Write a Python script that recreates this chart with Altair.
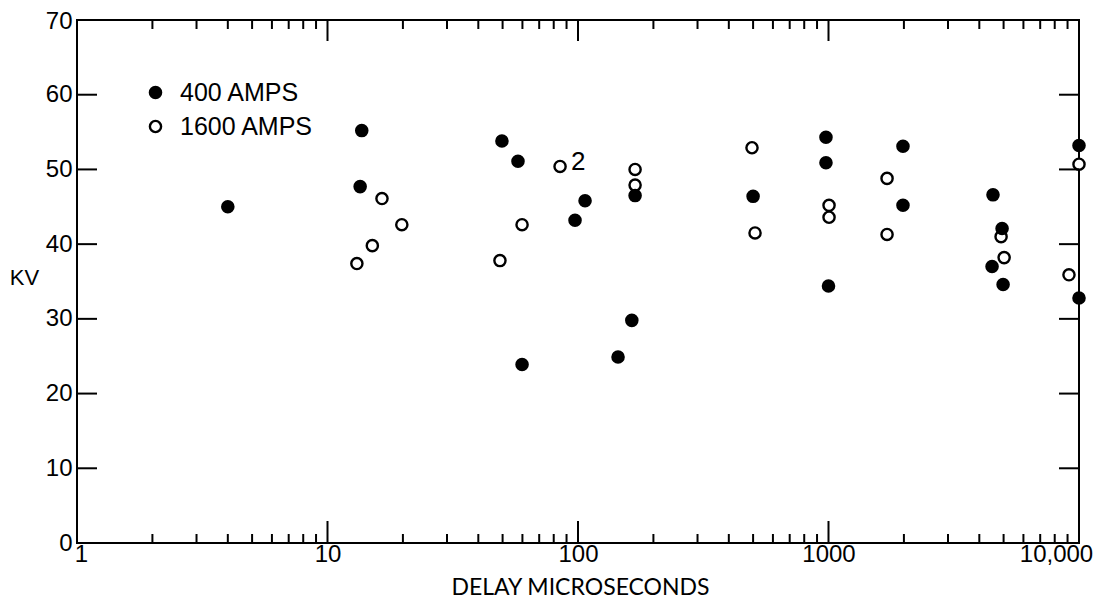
import altair as alt
import pandas as pd

# ---- data ----
amps400_x = [4.0, 13.7, 13.5, 49.7, 57.6, 106.7, 97.3, 169, 500, 59.8, 144.5, 164,
             977, 977, 1983, 1983, 4536, 4931, 4497, 4977, 1000, 10000, 10000]
amps400_y = [45.0, 55.2, 47.7, 53.8, 51.1, 45.8, 43.2, 46.5, 46.4, 23.9, 24.9, 29.8,
             54.3, 50.9, 53.1, 45.2, 46.6, 42.1, 37.0, 34.6, 34.4, 53.2, 32.8]
amps1600_x = [13.1, 15.1, 16.5, 19.8, 48.8, 59.8, 84.8, 169, 169, 495, 509,
              1713, 1713, 1005, 1005, 4886, 5025, 9120, 10000]
amps1600_y = [37.4, 39.8, 46.1, 42.6, 37.8, 42.6, 50.4, 50.0, 47.9, 52.9, 41.5,
              48.8, 41.3, 45.2, 43.6, 41.0, 38.2, 35.9, 50.7]

series_names = ["400 AMPS", "1600 AMPS"]

annot_x = [84.8]
annot_y = [50.4]
annot_text = ["2"]

x_tick_values = [1, 10, 100, 1000, 10000]
x_tick_labels = ["1", "10", "100", "1000", "10,000"]
x_minor_ticks = [2, 3, 4, 5, 6, 7, 8, 9,
                 20, 30, 40, 50, 60, 70, 80, 90,
                 200, 300, 400, 500, 600, 700, 800, 900,
                 2000, 3000, 4000, 5000, 6000, 7000, 8000, 9000]
y_tick_values = [0, 10, 20, 30, 40, 50, 60, 70]

# ---- layout ----
W, H = 1002, 523
FONT = "Liberation Sans"
TITLE_FONT = "Lato"

xs = alt.Scale(type="log", domain=[1, 10000], nice=False)
ys = alt.Scale(domain=[0, 70], nice=False)

label_expr = " : ".join(
    [f"datum.value == {v} ? '{l}'" for v, l in zip(x_tick_values, x_tick_labels)]
) + " : ''"

x_axis = alt.Axis(
    values=x_tick_values, labelExpr=label_expr, title="DELAY MICROSECONDS",
    labelFontSize=24, labelFont=FONT, labelPadding=-1, tickSize=0, ticks=False,
    labelFlush=False,
    labelOffset={"condition": [{"test": "datum.value == 10000", "value": -23},
                               {"test": "datum.value == 1", "value": 4}], "value": 0},
    titleFont=TITLE_FONT, titleFontSize=23, titleFontWeight="normal",
    titleX=503, titleY=44, titleBaseline="middle", titleAlign="center",
)
y_axis = alt.Axis(
    values=y_tick_values, title="KV", labelFontSize=24, labelFont=FONT,
    labelPadding=5, tickSize=0, ticks=False,
    labelOffset={"condition": {"test": "datum.value == 70", "value": 1}, "value": 0},
    titleAngle=0, titleX=-53, titleY=257, titleAlign="center", titleBaseline="middle",
    titleFont=FONT, titleFontSize=22, titleFontWeight="normal",
)

pts = pd.DataFrame({
    "delay": amps1600_x + amps400_x,
    "kv": amps1600_y + amps400_y,
    "series": [series_names[1]] * len(amps1600_x) + [series_names[0]] * len(amps400_x),
})

points = alt.Chart(pts).mark_point(
    shape="circle", size=125, strokeWidth=2.4, stroke="black",
    opacity=1, fillOpacity=1
).encode(
    x=alt.X("delay:Q", scale=xs, axis=x_axis),
    y=alt.Y("kv:Q", scale=ys, axis=y_axis),
    fill=alt.Fill("series:N", scale=alt.Scale(domain=series_names, range=["black", "white"]),
                  legend=alt.Legend(
                      title=None, orient="none", legendX=66, legendY=60, padding=0,
                      symbolType="circle", symbolSize=125, symbolStrokeColor="black",
                      symbolStrokeWidth=2.4, labelFontSize=25, labelFont=FONT,
                      labelOffset=12, rowPadding=8, labelColor="black",
                  )),
)

annot = alt.Chart(pd.DataFrame({"delay": annot_x, "kv": annot_y, "label": annot_text})).mark_text(
    dx=11, dy=-4, align="left", baseline="middle", fontSize=26, font=FONT, color="black"
).encode(
    x=alt.X("delay:Q", scale=xs, axis=x_axis),
    y=alt.Y("kv:Q", scale=ys, axis=y_axis),
    text="label:N",
)

yt = pd.DataFrame({"kv": y_tick_values[1:-1]})
xmaj = pd.DataFrame({"delay": x_tick_values[1:-1]})
xmin = pd.DataFrame({"delay": x_minor_ticks})

rule = dict(color="black", strokeWidth=2)
left_ticks = alt.Chart(yt).mark_rule(**rule).encode(
    y=alt.Y("kv:Q", scale=ys, axis=y_axis), x=alt.value(0), x2=alt.value(20))
right_ticks = alt.Chart(yt).mark_rule(**rule).encode(
    y=alt.Y("kv:Q", scale=ys, axis=y_axis), x=alt.value(W - 20), x2=alt.value(W))
bottom_major = alt.Chart(xmaj).mark_rule(**rule).encode(
    x=alt.X("delay:Q", scale=xs, axis=x_axis), y=alt.value(H), y2=alt.value(H - 22))
bottom_minor = alt.Chart(xmin).mark_rule(**rule).encode(
    x=alt.X("delay:Q", scale=xs, axis=x_axis), y=alt.value(H), y2=alt.value(H - 9))
top_major = alt.Chart(xmaj).mark_rule(**rule).encode(
    x=alt.X("delay:Q", scale=xs, axis=x_axis), y=alt.value(0), y2=alt.value(21))
top_minor = alt.Chart(xmin).mark_rule(**rule).encode(
    x=alt.X("delay:Q", scale=xs, axis=x_axis), y=alt.value(0), y2=alt.value(9))

chart = alt.layer(
    points, left_ticks, right_ticks, bottom_major, bottom_minor, top_major, top_minor,
    annot
).properties(
    width=W, height=H,
    autosize=alt.AutoSizeParams(type="none"),
    padding={"left": 69, "top": 12, "right": 15, "bottom": 57},
    background="white",
).configure_view(
    stroke="black", strokeWidth=2
).configure_axis(
    grid=False, domain=False, labelColor="black", titleColor="black"
)

chart.save("out.html", embed_options={"renderer": "svg", "actions": False})
